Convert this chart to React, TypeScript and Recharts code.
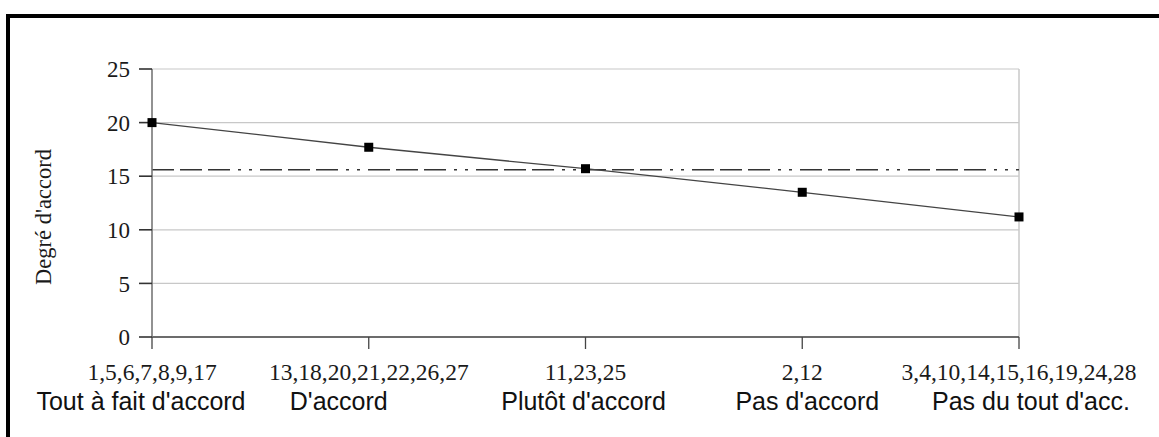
import { CartesianGrid, Line, LineChart, ReferenceLine, XAxis, YAxis } from "recharts";

// agreement categories, with the item numbers that fall into each one
const categories = [
  "Tout à fait d'accord",
  "D'accord",
  "Plutôt d'accord",
  "Pas d'accord",
  "Pas du tout d'acc.",
];
const itemNumbers = [
  "1,5,6,7,8,9,17",
  "13,18,20,21,22,26,27",
  "11,23,25",
  "2,12",
  "3,4,10,14,15,16,19,24,28",
];
const degree = [20, 17.7, 15.7, 13.5, 11.2];
const meanDegree = 15.6;
const yTicks = [0, 5, 10, 15, 20, 25];

const data = categories.map((cat, i) => ({ cat, degree: degree[i] }));

// the second label row is not centred on the ticks in the original
const labelShift = [-11, -30, -2, 5, 12];

const serif = "'Liberation Serif', 'DejaVu Serif', serif";
const sans = "'Liberation Sans', Arial, sans-serif";

function CategoryTick(props: any) {
  const { x, y, payload } = props;
  const i = payload.index;
  return (
    <g>
      <text x={x} y={y + 29} textAnchor="middle" fontFamily={serif} fontSize={23.5} fill="#1a1a1a">
        {itemNumbers[i]}
      </text>
      <text x={x + labelShift[i]} y={y + 59} textAnchor="middle" fontFamily={sans} fontSize={25} fill="#111">
        {categories[i]}
      </text>
    </g>
  );
}

function SquareDot(props: any) {
  const { cx, cy } = props;
  if (cx == null || cy == null) return null;
  return <rect x={cx - 4.5} y={cy - 4.5} width={9} height={9} fill="#000" />;
}

export default function App() {
  return (
    <div style={{ position: "absolute", left: 0, top: 0, width: 1159, height: 437, background: "#fff", overflow: "hidden" }}>
      <div
        style={{
          position: "absolute",
          left: 6,
          top: 14,
          width: 1159,
          height: 437,
          borderTop: "4px solid #000",
          borderLeft: "4px solid #000",
        }}
      />
      <LineChart
        width={1159}
        height={437}
        data={data}
        margin={{ top: 69, right: 140, left: 0, bottom: 0 }}
        style={{ position: "absolute", left: 0, top: 0 }}
      >
        <CartesianGrid vertical={false} stroke="#c8c8c8" strokeWidth={1.2} />
        <ReferenceLine x={categories[categories.length - 1]} stroke="#c8c8c8" strokeWidth={1.5} />
        <XAxis
          dataKey="cat"
          scale="point"
          padding={{ left: 0, right: 0 }}
          interval={0}
          height={100}
          tickSize={12}
          tickMargin={2}
          stroke="#444"
          strokeWidth={1.3}
          tick={<CategoryTick />}
        />
        <YAxis
          domain={[0, 25]}
          ticks={yTicks}
          width={152}
          tickSize={13}
          tickMargin={9}
          stroke="#777"
          strokeWidth={1.6}
          tick={{ fontFamily: serif, fontSize: 23, fill: "#1a1a1a" }}
          tickLine={{ stroke: "#333" }}
          label={{
            content: (p: any) => {
              const vb = p.viewBox;
              const cx = 43;
              const cy = vb.y + vb.height / 2 + 14;
              return (
                <text
                  x={cx}
                  y={cy}
                  transform={`rotate(-90 ${cx} ${cy})`}
                  textAnchor="middle"
                  dominantBaseline="central"
                  fontFamily={serif}
                  fontSize={22.5}
                  fill="#1a1a1a"
                >
                  Degré d'accord
                </text>
              );
            },
          }}
        />
        <ReferenceLine
          y={meanDegree}
          stroke="#333"
          strokeWidth={1.6}
          strokeDasharray="22 6 22 6 22 8 3 8 3 8"
        />
        <Line
          type="linear"
          dataKey="degree"
          stroke="#444"
          strokeWidth={1.3}
          dot={<SquareDot />}
          activeDot={false}
          isAnimationActive={false}
        />
      </LineChart>
    </div>
  );
}
